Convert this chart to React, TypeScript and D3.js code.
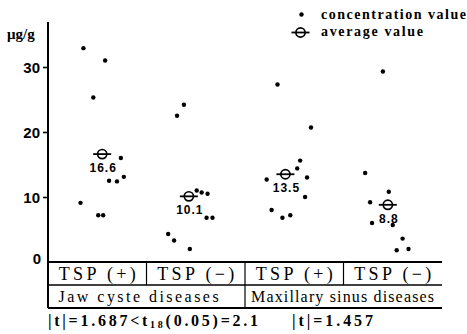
import { useEffect, useRef } from 'react';
import * as d3 from 'd3';

const groups = ['jawPlus', 'jawMinus', 'maxPlus', 'maxMinus'];
const groupLabels = ['TSP (+)', 'TSP (−)', 'TSP (+)', 'TSP (−)'];
const diseases = ['Jaw cyste diseases', 'Maxillary sinus diseases'];
const yTicks = [0, 10, 20, 30];

// concentration values (µg/g), jitter = horizontal offset inside the column
const jawPlus = [32.9, 31.0, 25.3, 16.0, 12.5, 12.4, 13.1, 9.1, 7.2, 7.2];
const jawPlusJitter = [-14, 8, -4, 24, 12, 20, 27, -17, 1, 6];
const jawMinus = [24.2, 22.5, 11.0, 10.7, 10.5, 6.8, 6.8, 4.3, 3.3, 2.0];
const jawMinusJitter = [-12, -19, 1, 6, 12, 11, 17, -28, -22, -6];
const maxPlus = [27.3, 20.7, 15.6, 14.4, 12.7, 13.0, 10.0, 8.0, 6.8, 7.2];
const maxPlusJitter = [-17, 17, 6, 3, -28, 13, 11, -23, -12, -4];
const maxMinus = [29.3, 13.7, 10.8, 9.2, 6.0, 5.7, 3.6, 1.8, 2.0];
const maxMinusJitter = [-10, -28, -4, -23, -21, 0, 10, 4, 16];

const averages = [16.6, 10.1, 13.5, 8.8];
const averageJitter = [5, -7, -9, -5];

const tStats = ['|t|=1.687<t', '18', '(0.05)=2.1', '|t|=1.457'];

const W = 467;
const H = 334;

export default function App() {
  const ref = useRef<SVGSVGElement | null>(null);
  useEffect(() => {
    const svg = d3.select(ref.current!);
    svg.selectAll('*').remove();

    const serif = '"Liberation Serif", "DejaVu Serif", serif';
    const narrow = '"Liberation Sans Narrow", "Liberation Sans", Arial, sans-serif';
    const left = 48, right = 442, top = 22;
    const row1 = 285, row2 = 308;

    const x = d3.scaleBand<string>().domain(groups).range([left, right]).padding(0);
    const y = d3.scaleLinear().domain([0, 30]).range([262, 67]);
    const bw = x.bandwidth();
    const jit = d3.scaleLinear().domain([-50, 50]).range([-bw / 2, bw / 2]);
    const cx = (g: string, j: number) => (x(g) ?? 0) + bw / 2 + jit(j);

    const series = [
      { g: 'jawPlus', v: jawPlus, j: jawPlusJitter },
      { g: 'jawMinus', v: jawMinus, j: jawMinusJitter },
      { g: 'maxPlus', v: maxPlus, j: maxPlusJitter },
      { g: 'maxMinus', v: maxMinus, j: maxMinusJitter },
    ];

    // y axis
    const ax = svg.append('g').attr('transform', `translate(${left},0)`)
      .call(d3.axisLeft(y).tickValues(yTicks).tickSize(5).tickPadding(3).tickFormat(d3.format('d')));
    ax.select('.domain').remove();
    ax.selectAll('.tick line').attr('stroke', '#000').attr('stroke-width', 1.6)
      .filter((d) => d === 0).remove();
    ax.selectAll('.tick text').attr('font-family', narrow).attr('font-weight', 'bold')
      .attr('font-size', 15).attr('fill', '#000').attr('dy', '0.36em');
    ax.selectAll('.tick').filter((d) => d === 0).select('text').attr('x', -7).attr('dy', '0.1em');
    svg.append('line').attr('x1', left).attr('x2', left).attr('y1', top).attr('y2', y(0))
      .attr('stroke', '#000').attr('stroke-width', 2);
    svg.append('text').attr('x', 7).attr('y', 39).attr('font-family', serif).attr('font-weight', 'bold')
      .attr('font-size', 15).text('μg/g');

    // points
    series.forEach((s) => {
      svg.append('g').selectAll('circle').data(s.v).enter().append('circle')
        .attr('cx', (_, i) => cx(s.g, s.j[i])).attr('cy', (d) => y(d)).attr('r', 2.2).attr('fill', '#000');
    });

    // averages
    const avg = svg.append('g').selectAll('g').data(averages).enter().append('g')
      .attr('transform', (d, i) => `translate(${cx(groups[i], averageJitter[i])},${y(d)})`);
    avg.append('line').attr('x1', -9).attr('x2', 9).attr('stroke', '#000').attr('stroke-width', 1.8);
    avg.append('circle').attr('r', 4.6).attr('fill', 'none').attr('stroke', '#000').attr('stroke-width', 1.7);
    avg.append('text').attr('x', 1).attr('y', 18).attr('text-anchor', 'middle')
      .attr('font-family', narrow).attr('font-weight', 'bold').attr('font-size', 12)
      .attr('letter-spacing', 1).text((d) => d.toFixed(1));

    // legend
    const lg = svg.append('g').attr('font-family', serif).attr('font-weight', 'bold').attr('font-size', 14);
    lg.append('circle').attr('cx', 301.5).attr('cy', 14.5).attr('r', 2.2);
    lg.append('text').attr('x', 321).attr('y', 19).attr('textLength', 145).attr('lengthAdjust', 'spacing').text('concentration value');
    lg.append('line').attr('x1', 291.5).attr('x2', 309.5).attr('y1', 32.5).attr('y2', 32.5).attr('stroke', '#000').attr('stroke-width', 1.8);
    lg.append('circle').attr('cx', 300.5).attr('cy', 32.5).attr('r', 4.6).attr('fill', 'none').attr('stroke', '#000').attr('stroke-width', 1.7);
    lg.append('text').attr('x', 321).attr('y', 36).attr('textLength', 102).attr('lengthAdjust', 'spacing').text('average value');

    // table
    const tb = svg.append('g').attr('stroke', '#000');
    tb.append('line').attr('x1', left).attr('x2', right).attr('y1', y(0)).attr('y2', y(0)).attr('stroke-width', 2);
    tb.append('line').attr('x1', left).attr('x2', right).attr('y1', row1).attr('y2', row1).attr('stroke-width', 1.5);
    tb.append('line').attr('x1', left).attr('x2', right).attr('y1', row2).attr('y2', row2).attr('stroke-width', 1.8);
    tb.append('line').attr('x1', left).attr('x2', left).attr('y1', y(0)).attr('y2', row2).attr('stroke-width', 2);
    tb.selectAll('.div1').data(groups.slice(1)).enter().append('line')
      .attr('x1', (d) => x(d) ?? 0).attr('x2', (d) => x(d) ?? 0).attr('y1', y(0)).attr('y2', row1).attr('stroke-width', 1.2);
    tb.append('line').attr('x1', x('maxPlus') ?? 0).attr('x2', x('maxPlus') ?? 0).attr('y1', row1).attr('y2', row2).attr('stroke-width', 1.2);

    svg.append('g').selectAll('text').data(groups).enter().append('text')
      .attr('x', (d) => (x(d) ?? 0) + bw / 2).attr('y', 280).attr('text-anchor', 'middle')
      .attr('font-family', serif).attr('font-size', 18).attr('textLength', 77).attr('lengthAdjust', 'spacing')
      .text((_, i) => groupLabels[i]);
    const dw = [160, 183];
    const dc = [(x('jawPlus') ?? 0) + bw * 0.92, (x('maxPlus') ?? 0) + bw * 0.99];
    svg.append('g').selectAll('text').data(diseases).enter().append('text')
      .attr('x', (_, i) => dc[i]).attr('y', 302).attr('text-anchor', 'middle')
      .attr('font-family', serif).attr('font-size', 16).attr('textLength', (_, i) => dw[i]).attr('lengthAdjust', 'spacing')
      .text((d) => d);

    // t statistics
    const t1 = svg.append('text').attr('x', 48).attr('y', 326).attr('font-family', serif)
      .attr('font-weight', 'bold').attr('font-size', 16).attr('textLength', 210).attr('lengthAdjust', 'spacing');
    t1.append('tspan').text(tStats[0]);
    t1.append('tspan').attr('font-size', 10).attr('dy', 2).text(tStats[1]);
    t1.append('tspan').attr('dy', -2).text(tStats[2]);
    svg.append('text').attr('x', 292).attr('y', 326).attr('font-family', serif)
      .attr('font-weight', 'bold').attr('font-size', 16).attr('textLength', 81).attr('lengthAdjust', 'spacing')
      .text(tStats[3]);
  }, []);
  return <svg ref={ref} width={W} height={H} style={{ position: 'absolute', left: 0, top: 0, background: '#fff' }} />;
}
